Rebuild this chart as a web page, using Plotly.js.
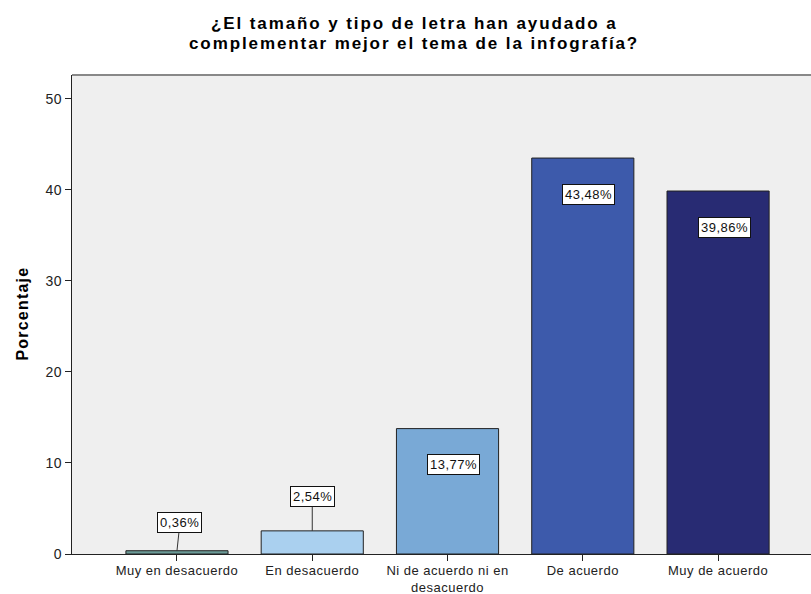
<!DOCTYPE html>
<html>
<head>
<meta charset="utf-8">
<script src="https://cdn.plot.ly/plotly-3.0.1.min.js"></script>
<style>html,body{margin:0;padding:0;background:#fff;}#chart{width:811px;height:594px;}</style>
</head>
<body>
<div id="chart"></div>
<script>
const categories = ["Muy en desacuerdo", "En desacuerdo", "Ni de acuerdo ni en<br>desacuerdo", "De acuerdo", "Muy de acuerdo"];
const values = [0.36, 2.54, 13.77, 43.48, 39.86];
const valueLabels = ["0,36%", "2,54%", "13,77%", "43,48%", "39,86%"];
const barColors = ["#6b9a97", "#aad0ef", "#79a9d6", "#3d5aab", "#282b73"];
const yTicks = [0, 10, 20, 30, 40, 50];
const titleLines = ["¿El tamaño y tipo de letra han ayudado a", "complementar mejor el tema de la infografía?"];
const yTitle = "Porcentaje";

const FONT = "Liberation Sans, Arial, sans-serif";
// wrap each line in a letter-spaced span
function ls(text, px) {
  return text.split("<br>").map(t => '<span style="letter-spacing:' + px + 'px">' + t + '</span>').join("<br>");
}

const idx = categories.map((_, i) => i);
const trace = {
  type: "bar",
  x: idx,
  y: values,
  width: 0.755,
  marker: {color: barColors, line: {color: "#222", width: 1}},
  hoverinfo: "skip"
};

const annotations = values.map((v, i) => {
  const base = {
    x: i, y: v, xref: "x", yref: "y",
    text: ls(valueLabels[i], 0.5),
    font: {family: FONT, size: 13, color: "#111"},
    bgcolor: "#ffffff", bordercolor: "#111", borderwidth: 1, borderpad: 2
  };
  if (v < 5) {
    return Object.assign(base, {showarrow: true, arrowhead: 0, arrowwidth: 1, arrowcolor: "#333",
      ax: i === 0 ? 3 : 0, ay: i === 0 ? -28 : -34, standoff: 0});
  }
  return Object.assign(base, {showarrow: false, xshift: 6, yshift: -36});
});

// title lines
[1.1065, 1.0668].forEach((yy, k) => {
  annotations.push({
    xref: "paper", yref: "paper", x: 0.4628, y: yy, xanchor: "center", yanchor: "middle",
    showarrow: false, text: ls(titleLines[k], 1.9), borderpad: 0,
    font: {family: FONT, size: 17, color: "#000", weight: "bold"}
  });
});
// y axis title
annotations.push({
  xref: "paper", yref: "paper", x: -0.0663, y: 0.502, xanchor: "center", yanchor: "middle",
  showarrow: false, textangle: -90, text: ls(yTitle, 1.2),
  font: {family: FONT, size: 16, color: "#000", weight: "bold"}
});

const layout = {
  width: 811, height: 594,
  margin: {l: 72, r: 0, t: 75, b: 40},
  paper_bgcolor: "#ffffff",
  plot_bgcolor: "#efefef",
  showlegend: false,
  xaxis: {
    range: [-0.776, 4.687],
    tickvals: idx, ticktext: categories.map(c => ls(c, 0.5)),
    ticks: "outside", ticklen: 6, tickcolor: "#222", tickwidth: 1,
    ticklabelstandoff: -2,
    showline: true, linecolor: "#222", linewidth: 1,
    showgrid: false, zeroline: false, fixedrange: true,
    tickfont: {family: FONT, size: 13, color: "#222"},
    automargin: false
  },
  yaxis: {
    range: [0, 52.6],
    tickvals: yTicks, ticktext: yTicks.map(t => ls(String(t), 0.6)),
    ticks: "outside", ticklen: 6, tickcolor: "#222", tickwidth: 1,
    showline: true, linecolor: "#222", linewidth: 1,
    showgrid: false, zeroline: false, fixedrange: true,
    tickfont: {family: FONT, size: 14, color: "#222"},
    automargin: false
  },
  annotations: annotations,
  shapes: [{type: "line", xref: "paper", yref: "paper", x0: 0, x1: 1, y0: 1, y1: 1, line: {color: "#888", width: 2}}],
  bargap: 0.2
};
Plotly.newPlot("chart", [trace], layout, {displayModeBar: false, staticPlot: true});
</script>
</body>
</html>
